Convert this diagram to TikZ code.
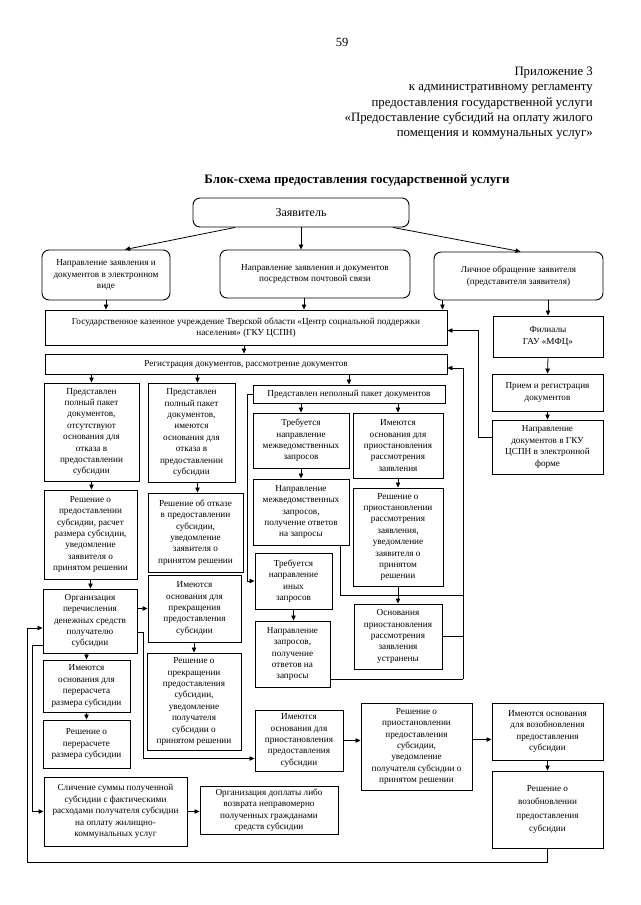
\documentclass[tikz,border=0pt]{standalone}
\usepackage{fontspec}
\setmainfont{Liberation Serif}
\usetikzlibrary{arrows.meta,calc}
\newcommand\bxfont{\fontsize{9.2}{11.4}\selectfont}
% \bx[style]{name}{x1}{y1}{x2}{y2}{text}
\newcommand\bx[7][box]{%
  \pgfmathsetmacro\bxcx{(#3+#5)/2}%
  \pgfmathsetmacro\bxcy{(#4+#6)/2}%
  \pgfmathsetmacro\bxw{#5-#3}%
  \pgfmathsetmacro\bxh{#6-#4}%
  \node[#1, minimum width=\bxw pt, minimum height=\bxh pt] (#2) at (\bxcx,\bxcy) {#7};}
\begin{document}
\begin{tikzpicture}[x=1pt,y=-1pt,
  box/.style={draw, line width=0.9pt, inner sep=0pt, align=center, font=\bxfont},
  rbox/.style={box, rounded corners=7pt},
  arr/.style={line width=0.8pt, -{Triangle[length=5pt,width=4.4pt]}},
  ln/.style={line width=0.8pt}]
\fill[white] (0,0) rectangle (640,905);
\useasboundingbox (0,0) rectangle (640,905);
% header
\node[font=\fontsize{12.5}{15}\selectfont] (pg) at (342,42) {59};
\node[anchor=north east, align=right, inner sep=0pt, font=\fontsize{12.8}{15.2}\selectfont] (hdr) at (593,67)
 {Приложение 3\\к административному регламенту\\предоставления государственной услуги\\«Предоставление субсидий на оплату жилого\\помещения и коммунальных услуг»};
\node[font=\bfseries\fontsize{12.9}{15}\selectfont] (title) at (357,180) {Блок-схема предоставления государственной услуги};
% boxes
\bx[rbox,font=\fontsize{12}{14}\selectfont]{z}{193}{198}{409}{227}{Заявитель}
\bx[rbox]{a}{42}{250}{170}{300}{Направление заявления и\\документов в электронном\\виде}
\bx[rbox]{b}{220}{250}{410}{298}{Направление заявления и документов\\посредством почтовой связи}
\bx[rbox]{c}{434}{252}{603}{300}{Личное обращение заявителя\\(представителя заявителя)}
\bx{gku}{45}{310}{447}{345}{Государственное казенное учреждение Тверской области «Центр социальной поддержки\\населения» (ГКУ ЦСПН)}
\bx{fil}{493}{316}{603}{357}{Филиалы\\ГАУ «МФЦ»}
\bx{reg}{45}{354}{447}{374}{Регистрация документов, рассмотрение документов}
\bx{priem}{492}{374}{603}{411}{Прием и регистрация\\документов}
\bx{ndoc}{492}{420}{603}{474}{Направление\\документов в ГКУ\\ЦСПН в электронной\\форме}
\bx{p1}{44}{383}{139}{481}{Представлен\\полный пакет\\документов,\\отсутствуют\\основания для\\отказа в\\предоставлении\\субсидии}
\bx{p2}{148}{383}{235}{482}{Представлен\\полный пакет\\документов,\\имеются\\основания для\\отказа в\\предоставлении\\субсидии}
\bx{pn}{253}{385}{445}{403}{Представлен неполный пакет документов}
\bx{tm}{253}{413}{349}{468}{Требуется\\направление\\межведомственных\\запросов}
\bx{ir}{353}{413}{443}{478}{Имеются\\основания для\\приостановления\\рассмотрения\\заявления}
\bx{nm}{253}{479}{349}{545}{Направление\\межведомственных\\запросов,\\получение ответов\\на запросы}
\bx{rr}{353}{488}{443}{586}{Решение о\\приостановлении\\рассмотрения\\заявления,\\уведомление\\заявителя о\\принятом\\решении}
\bx{r1}{44}{490}{137}{579}{Решение о\\предоставлении\\субсидии, расчет\\размера субсидии,\\уведомление\\заявителя о\\принятом решении}
\bx{r2}{148}{493}{243}{572}{Решение об отказе\\в предоставлении\\субсидии,\\уведомление\\заявителя о\\принятом решении}
\bx{ti}{255}{553}{332}{609}{Требуется\\направление\\иных\\запросов}
\bx{org}{43}{589}{137}{653}{Организация\\перечисления\\денежных средств\\получателю\\субсидии}
\bx{ipk}{148}{575}{241}{642}{Имеются\\основания для\\прекращения\\предоставления\\субсидии}
\bx{ou}{354}{604}{442}{669}{Основания\\приостановления\\рассмотрения\\заявления\\устранены}
\bx{nz}{255}{621}{330}{687}{Направление\\запросов,\\получение\\ответов на\\запросы}
\bx{ipr}{43}{660}{130}{712}{Имеются\\основания для\\перерасчета\\размера субсидии}
\bx{rpk}{147}{653}{241}{750}{Решение о\\прекращении\\предоставления\\субсидии,\\уведомление\\получателя\\субсидии о\\принятом решении}
\bx{rpr}{43}{720}{130}{768}{Решение о\\перерасчете\\размера субсидии}
\bx{ips}{255}{710}{343}{771}{Имеются\\основания для\\приостановления\\предоставления\\субсидии}
\bx{rps}{361}{703}{472}{790}{Решение о\\приостановлении\\предоставления\\субсидии,\\уведомление\\получателя субсидии о\\принятом решении}
\bx{iv}{492}{703}{603}{760}{Имеются основания\\для возобновления\\предоставления\\субсидии}
\bx{rv}{492}{771}{603}{848}{Решение о\\[2pt]возобновлении\\[2pt]предоставления\\[2pt]субсидии}
\bx{sl}{44}{777}{187}{846}{Сличение суммы полученной\\субсидии с фактическими\\расходами получателя субсидии\\на оплату жилищно-\\коммунальных услуг}
\bx{od}{200}{786}{338}{834}{Организация доплаты либо\\возврата неправомерно\\полученных гражданами\\средств субсидии}
% helper coordinates
\coordinate (rb) at (463,679);
\coordinate (lb) at (27,862);
% connectors top
\draw[arr] ([xshift=-66pt]z.south) -- ([xshift=19pt]a.north);
\draw[arr] (z.south) -- (z.south |- b.north);
\draw[arr] ([xshift=92pt]z.south) -- ([xshift=2pt]c.north);
\draw[arr] (a.south) -- (a.south |- gku.north);
\draw[arr] ([xshift=-11pt]b.south) -- ([xshift=-11pt]b.south |- gku.north);
\draw[arr] ([xshift=-5pt]gku.north east |- c.south) -- ([xshift=-5pt]gku.north east);
\draw[arr] (c.south -| fil.north) -- (fil.north);
\draw[arr] (fil.south) -- (priem.north);
\draw[arr] (priem.south) -- (ndoc.north);
\draw[arr] ([yshift=10pt]ndoc.west) -- ++(-13,0) |- ([yshift=-3pt]gku.east);
\draw[arr] ([xshift=-2pt]gku.south) -- ([xshift=-2pt]gku.south |- reg.north);
% registration split
\draw[arr] (reg.south -| p1.north) -- (p1.north);
\draw[arr] ([xshift=6pt]reg.south -| p2.north) -- ([xshift=6pt]p2.north);
\draw[arr] (reg.south -| pn.north) -- (pn.north);
\draw[arr] (p1.south) -- (p1.south |- r1.north);
\draw[arr] ([xshift=6pt]p2.south) -- ([xshift=6pt]p2.south |- r2.north);
\draw[arr] (pn.south -| tm.north) -- (tm.north);
\draw[arr] (pn.south -| ir.north) -- (ir.north);
\draw[arr] (tm.south) -- (tm.south |- nm.north);
\draw[arr] (ir.south) -- (ir.south |- rr.north);
\draw[arr] (rr.south) -- (rr.south |- ou.north);
\draw[arr] (pn.west) -- ++(-5,0) |- (ti.west);
\draw[arr] (ti.south) -- (ti.south |- nz.north);
% return loop to registration
\draw[ln] ([xshift=-9pt]nm.south east) -- ++(0,50) -| (rb);
\draw[ln] (ou.east) -- (ou.east -| rb);
\draw[ln] (nz.east |- rb) -- (rb);
\draw[arr] (rb) |- ([yshift=-4pt]reg.east);
% left column
\draw[arr] (r1.south) -- (r1.south |- org.north);
\draw[arr] (org.south -| ipr.north) -- (ipr.north);
\draw[arr] (ipr.south) -- (ipr.south |- rpr.north);
\draw[arr] (ipk.west -| org.east) -- (ipk.west);
\draw[arr] (ipk.south -| rpk.north) -- (rpk.north);
\draw[arr] ([yshift=-11pt]org.east) -- ++(6,0) |- ([yshift=-18pt]ips.west);
\draw[arr] (ips.east) -- (ips.east -| rps.west);
\path ([yshift=-8pt]iv.west) coordinate (ivw);
\draw[arr] (ivw -| rps.east) -- (ivw);
\draw[arr] (iv.south) -- (iv.south |- rv.north);
\draw[arr] (rv.south) |- (lb) |- ([yshift=-7pt]org.west);
\draw[arr] ([yshift=-24pt]org.west) -- ++(-10,0) |- (sl.west);
\draw[arr] (sl.east) -- (sl.east -| od.west);
\end{tikzpicture}
\end{document}
